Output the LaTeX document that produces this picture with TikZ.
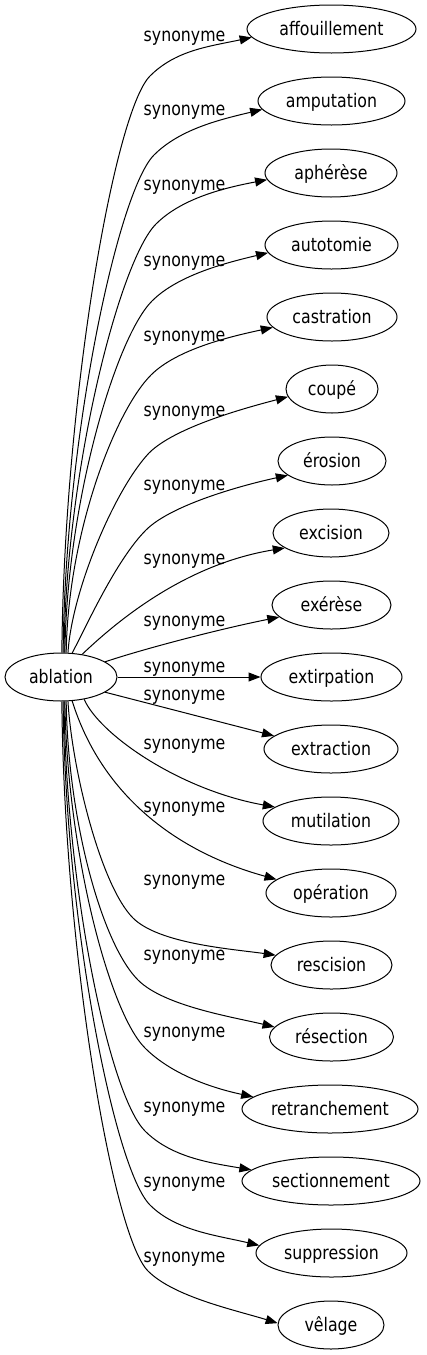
\documentclass[tikz,border=0pt]{standalone}
\usepackage{fontspec}
\setmainfont{DejaVu Sans}[FakeStretch=0.845]
\usetikzlibrary{shapes.geometric,arrows.meta}
\begin{document}
\begin{tikzpicture}[x=1pt,y=-1pt,
  every node/.style={font=\fontsize{18.67}{22}\selectfont},
  nd/.style={ellipse, draw, line width=1pt, inner sep=0pt, minimum height=48pt, text height=12pt, text depth=0pt},
  lab/.style={inner sep=0pt, text height=12pt, text depth=0pt},
  edge/.style={draw, line width=1pt, -{Triangle[length=12pt,width=9pt]}}]
\useasboundingbox (0,0) rectangle (426,1355);
% nodes
\node[nd, minimum width=112pt] (abl) at (61,677) {ablation};
\node[nd, minimum width=169pt] (t1) at (331.5,29) {affouillement};
\node[nd, minimum width=147pt] (t2) at (331.5,101) {amputation};
\node[nd, minimum width=132pt] (t3) at (331,173) {aphérèse};
\node[nd, minimum width=133pt] (t4) at (331.5,245) {autotomie};
\node[nd, minimum width=130pt] (t5) at (332,317) {castration};
\node[nd, minimum width=92pt] (t6) at (332,389) {coupé};
\node[nd, minimum width=108pt] (t7) at (332,461) {érosion};
\node[nd, minimum width=116pt] (t8) at (331,533) {excision};
\node[nd, minimum width=119pt] (t9) at (331.5,605) {exérèse};
\node[nd, minimum width=141pt] (t10) at (331.5,677) {extirpation};
\node[nd, minimum width=134pt] (t11) at (331,749) {extraction};
\node[nd, minimum width=136pt] (t12) at (331,821) {mutilation};
\node[nd, minimum width=130pt] (t13) at (331,893) {opération};
\node[nd, minimum width=121pt] (t14) at (331.5,965) {rescision};
\node[nd, minimum width=124pt] (t15) at (331.5,1037) {résection};
\node[nd, minimum width=176pt] (t16) at (330,1109) {retranchement};
\node[nd, minimum width=178pt] (t17) at (331,1181) {sectionnement};
\node[nd, minimum width=151pt] (t18) at (331.5,1253) {suppression};
\node[nd, minimum width=106pt] (t19) at (331,1325) {vêlage};
% labels
\node[lab] (l1) at (184.5,35) {synonyme};
\node[lab] (l2) at (184.5,109) {synonyme};
\node[lab] (l3) at (184.5,184) {synonyme};
\node[lab] (l4) at (184.5,260) {synonyme};
\node[lab] (l5) at (184.5,335) {synonyme};
\node[lab] (l6) at (184.5,410) {synonyme};
\node[lab] (l7) at (184.5,484) {synonyme};
\node[lab] (l8) at (184.5,558) {synonyme};
\node[lab] (l9) at (184.5,620) {synonyme};
\node[lab] (l10) at (184.5,666) {synonyme};
\node[lab] (l11) at (184.5,694) {synonyme};
\node[lab] (l12) at (184.5,743) {synonyme};
\node[lab] (l13) at (184.5,806) {synonyme};
\node[lab] (l14) at (184.5,879) {synonyme};
\node[lab] (l15) at (184.5,954) {synonyme};
\node[lab] (l16) at (184.5,1031) {synonyme};
\node[lab] (l17) at (184.5,1106) {synonyme};
\node[lab] (l18) at (184.5,1181) {synonyme};
\node[lab] (l19) at (184.5,1256) {synonyme};
% bend points
\coordinate (b1) at (150,76);
\coordinate (b2) at (154,155);
\coordinate (b3) at (156,224);
\coordinate (b4) at (152,301);
\coordinate (b5) at (151,375);
\coordinate (b6) at (149,453);
\coordinate (b7) at (146,530);
\coordinate (b14) at (133,918);
\coordinate (b15) at (138,980);
\coordinate (b16) at (145,1048);
\coordinate (b17) at (145,1131);
\coordinate (b18) at (150,1205);
\coordinate (b19) at (148,1271);
% upper edges
\draw[edge] (abl.88) .. controls (64,403) and +(-36,36) .. (b1) .. controls +(26,-26) and +(-42,9) .. (t1.186);
\draw[edge] (abl.85) .. controls (65,438) and +(-36,36) .. (b2) .. controls +(26,-26) and +(-42,10) .. (t2.187);
\draw[edge] (abl.83) .. controls (66,468) and +(-36,36) .. (b3) .. controls +(26,-26) and +(-42,8) .. (t3.186);
\draw[edge] (abl.81) .. controls (67,501) and +(-36,36) .. (b4) .. controls +(26,-26) and +(-42,10) .. (t4.187);
\draw[edge] (abl.78) .. controls (68,533) and +(-36,36) .. (b5) .. controls +(26,-26) and +(-42,9) .. (t5.190);
\draw[edge] (abl.74) .. controls (72,590) and +(-34,36) .. (b6) .. controls +(26,-26) and +(-42,11) .. (t6.190);
\draw[edge] (abl.65) .. controls (86,627) and +(-30,30) .. (b7) .. controls +(26,-26) and +(-42,9) .. (t7.198);
\draw[edge] (abl.47) .. controls (110,628) and (180,565) .. (t8.198);
\draw[edge] (abl.19) .. controls (140,650) and (215,630) .. (t9.193);
% middle edges
\draw[edge] (abl.east) -- (t10.west);
\draw[edge] (abl.341) -- (t11.167);
% lower edges
\draw[edge] (abl.316) .. controls (100,735) and (180,790) .. (t12.166);
\draw[edge] (abl.295) .. controls (100,790) and (170,850) .. (t13.166);
\draw[edge] (abl.286) .. controls (72,770) and +(-32,-32) .. (b14) .. controls +(26,26) and +(-42,-6) .. (t14.170);
\draw[edge] (abl.282) .. controls (68,821) and +(-36,-36) .. (b15) .. controls +(26,26) and +(-42,-10) .. (t15.170);
\draw[edge] (abl.279) .. controls (67,850) and +(-36,-36) .. (b16) .. controls +(26,26) and +(-42,-9) .. (t16.171);
\draw[edge] (abl.277) .. controls (66,886) and +(-36,-36) .. (b17) .. controls +(26,26) and +(-42,-7) .. (t17.172);
\draw[edge] (abl.275) .. controls (65,918) and +(-36,-36) .. (b18) .. controls +(26,26) and +(-42,-10) .. (t18.174);
\draw[edge] (abl.272) .. controls (64,946) and +(-36,-36) .. (b19) .. controls +(26,26) and +(-42,-13) .. (t19.178);
\end{tikzpicture}
\end{document}
